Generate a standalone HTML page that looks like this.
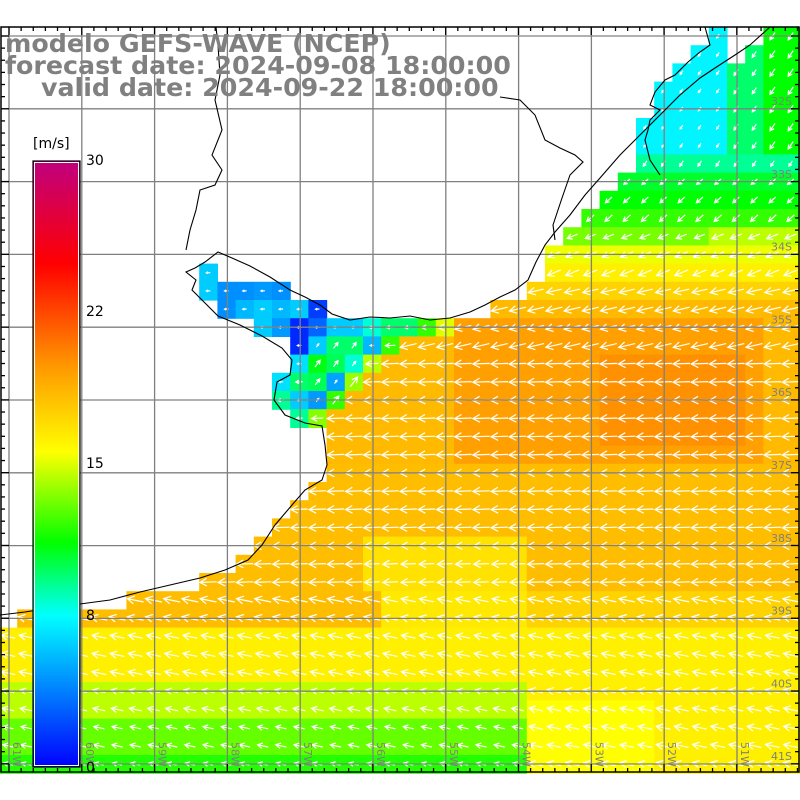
<!DOCTYPE html>
<html><head><meta charset="utf-8">
<style>
html,body{margin:0;padding:0;background:#fff;}
svg{display:block;}
</style></head>
<body>
<svg id="s" width="800" height="800" viewBox="0 0 800 800" xmlns="http://www.w3.org/2000/svg">
<defs>
<linearGradient id="cb" x1="0" y1="1" x2="0" y2="0">
<stop offset="0" stop-color="#0000ff"/>
<stop offset="0.25" stop-color="#00ffff"/>
<stop offset="0.37" stop-color="#00ff00"/>
<stop offset="0.52" stop-color="#ffff00"/>
<stop offset="0.66" stop-color="#ff9900"/>
<stop offset="0.83" stop-color="#ff0000"/>
<stop offset="1" stop-color="#c0007f"/>
</linearGradient>
</defs>
<g id="cells"></g>
<g id="arrows" stroke="#fff" stroke-width="1.2" fill="none"></g>
<g id="grid" stroke="#808080" stroke-width="1.3"></g>
<g fill="none" stroke="#000" stroke-width="1.1">
<polyline points="770,27 750,45 735,55 715,68 700,78 680,95 660,115 640,135 620,155 600,178 585,195 570,215 555,232 545,245 536,262 528,280 515,290 500,297 485,305 470,312 450,318 430,320 410,316 390,318 370,317 350,320 332,314 320,305 305,297 290,290 270,277 250,266 232,258 218,252 205,262 195,268 186,272 196,280 192,290 202,300 218,316 240,325 262,336 282,348 292,360 290,375 277,382 274,400 285,415 305,423 322,426 325,445 327,465 322,480 305,490 292,505 275,525 262,545 248,560 225,570 200,578 170,585 140,592 110,600 80,604 50,608 25,612 0,615"/>
<polyline points="216,27 218,45 220,75 215,100 222,130 212,155 222,170 215,185 200,190 196,210 190,230 186,250"/>
<polyline points="705,27 710,45 700,52 688,62 675,75 665,80 655,92 650,105 660,110 650,120 648,130 645,140 650,160 660,175"/>
<polyline points="500,97 520,100 535,115 545,140 560,148 575,155 583,162 570,175 562,198 553,225 555,240"/>
</g>
<g id="ticks" stroke="#000" stroke-width="1.3"></g>
<rect x="1" y="27" width="798" height="745" fill="none" stroke="#000" stroke-width="1.5"/>
<g id="lat" font-family="DejaVu Sans, sans-serif" font-size="11" fill="#808080"></g>
<g id="lon" font-family="DejaVu Sans, sans-serif" font-size="11" fill="#808080"></g>
<rect x="33" y="161" width="47" height="606" fill="url(#cb)" stroke="#000" stroke-width="1.2"/>
<rect x="34.5" y="162.5" width="44" height="603" fill="none" stroke="#fff" stroke-width="1"/>
<g font-family="DejaVu Sans, sans-serif" font-size="14" fill="#000">
<text x="33" y="148">[m/s]</text>
<text x="86" y="165">30</text>
<text x="86" y="316">22</text>
<text x="86" y="468">15</text>
<text x="86" y="620">8</text>
<text x="86" y="772">0</text>
</g>
<g font-family="DejaVu Sans, sans-serif" font-weight="bold" font-size="25.3" fill="#808080">
<text x="5" y="52">modelo GEFS-WAVE (NCEP)</text>
<text x="5" y="74">forecast date: 2024-09-08 18:00:00</text>
<text x="41" y="96">valid date: 2024-09-22 18:00:00</text>
</g>
</svg>
<script>
(function(){
var NS="http://www.w3.org/2000/svg";
function el(p,t,a){var e=document.createElementNS(NS,t);for(var k in a)e.setAttribute(k,a[k]);p.appendChild(e);return e;}
var stops=[[0,[0,0,255]],[0.25,[0,255,255]],[0.37,[0,255,0]],[0.52,[255,255,0]],[0.66,[255,153,0]],[0.83,[255,0,0]],[1,[192,0,127]]];
function col(v){for(var k=0;k<stops.length-1;k++){var a=stops[k],b=stops[k+1];if(v<=b[0]){var t=(v-a[0])/(b[0]-a[0]);var c=[0,1,2].map(function(q){return Math.round(a[1][q]+(b[1][q]-a[1][q])*t);});return "rgb("+c.join(",")+")";}}return "rgb(192,0,127)";}
var W=18.2,X0=-1,Y0=27;
var est={
13:{11:0.2},
14:{11:0.2,12:0.14,13:0.14,14:0.15,15:0.14},
15:{12:0.14,13:0.18,14:0.2,15:0.18,16:0.2,17:0.06},
16:{14:0.2,15:0.15,16:0.04,17:0.1,18:0.2,19:0.2,20:0.27,21:0.32,22:0.32,23:0.4,24:0.5},
17:{16:0.04,17:0.2,18:0.32,19:0.32,20:0.18,21:0.4},
18:{16:0.22,17:0.36,18:0.33,19:0.27,20:0.48},
19:{15:0.22,16:0.32,17:0.33,18:0.16,19:0.46},
20:{15:0.3,16:0.2,17:0.15,18:0.4},
21:{16:0.3,17:0.45}
};
var nstart={0:42,1:41,2:37,3:36,4:36,5:35,6:35,7:35,8:34,9:33,10:32,11:31,12:30,13:30,14:29,15:27,16:25,17:22,18:21,19:20,20:19,21:18,22:18,23:18,24:18,25:17,26:16,27:15,28:14,29:13,30:11,31:7,32:1};
function ocean(i,j){
 if(est[j]&&est[j][i]!==undefined)return true;
 if(j==0&&i==39)return true;
 if(j==1&&(i==38||i==39))return true;
 var s=nstart[j]!==undefined?nstart[j]:0;
 return i>=s;
}
function val(i,j){
 if(est[j]&&est[j][i]!==undefined)return est[j][i];
 if(j<=7){ if(j==7)return 0.3; if(i>=42)return 0.37; if(i>=40)return 0.32; return 0.24;}
 if(j==8)return 0.35; if(j==9)return 0.37; if(j==10)return 0.40;
 if(j==11)return i>38?0.48:0.44; if(j==12)return 0.51; if(j==13)return 0.54; if(j==14)return 0.58;
 if(j<=23){ if(j>=18&&j<=22&&i>=33&&i<=40)return 0.67; if(j>=16&&i>=25&&i<=41)return 0.65; return 0.615;}
 if(j<=30){ if(i>=20&&i<=28&&j>=28)return 0.56; return 0.61;}
 if(i>=29){ return j<=32?0.58:(j>=37&&i<=35?0.52:0.54);}
 if(j<=32) return (i>=21)?0.55:0.61;
 if(j<=35) return 0.54;
 if(j<=37) return 0.48;
 if(j<=39) return 0.43;
 return 0.39;
}
function dir(i,j){
 if(est[j]&&est[j][i]!==undefined){
   if(j>=17&&j<=20&&i>=17&&i<=19)return [0.6,-0.8];
   return [-1,0.05];}
 if(j<=7)return [-0.55,0.83];
 if(j<=10)return [-0.75,0.66];
 if(j<=13)return [-0.92,0.38];
 if(j<=17)return [-0.97,0.22];
 if(j<=30)return [-1,0.04];
 return [-0.98,-0.2];
}
var cg=document.getElementById("cells"),ag=document.getElementById("arrows");
var d="";
for(var j=0;j<41;j++)for(var i=0;i<44;i++){
 if(!ocean(i,j))continue;
 var x=X0+i*W,y=Y0+j*W,v=val(i,j);
 el(cg,"rect",{x:x.toFixed(1),y:y.toFixed(1),width:(W+0.6).toFixed(1),height:(W+0.6).toFixed(1),fill:col(v)});
 var dd=dir(i,j),L=Math.min(17,Math.max(4,(v-0.1)*33));
 var cx=x+W/2,cy=y+W/2;
 var hx=cx+dd[0]*L/2,hy=cy+dd[1]*L/2,tx=cx-dd[0]*L/2,ty=cy-dd[1]*L/2;
 var px=-dd[1],py=dd[0],b=Math.min(7,L*0.45);
 d+="M"+tx.toFixed(1)+" "+ty.toFixed(1)+"L"+hx.toFixed(1)+" "+hy.toFixed(1)+
    "M"+(hx-dd[0]*b+px*b*0.55).toFixed(1)+" "+(hy-dd[1]*b+py*b*0.55).toFixed(1)+"L"+hx.toFixed(1)+" "+hy.toFixed(1)+
    "L"+(hx-dd[0]*b-px*b*0.55).toFixed(1)+" "+(hy-dd[1]*b-py*b*0.55).toFixed(1);
}
el(ag,"path",{d:d});
var gg=document.getElementById("grid");
for(var k=0;k<11;k++){var gx=9+72.8*k;el(gg,"line",{x1:gx,y1:27,x2:gx,y2:772});}
for(var k=0;k<11;k++){var gy=36+72.8*k;if(gy<772)el(gg,"line",{x1:1,y1:gy,x2:799,y2:gy});}
var tg=document.getElementById("ticks");
for(var k=-1;k<67;k++){var tx=9+12.13*k;if(tx<1||tx>799)continue;var big=(k%6==0)?8:4;
 el(tg,"line",{x1:tx,y1:27,x2:tx,y2:27+big});el(tg,"line",{x1:tx,y1:772,x2:tx,y2:772-big});}
for(var k=-1;k<64;k++){var ty=36+12.13*k;if(ty<27||ty>772)continue;var big=(k%6==0)?8:4;
 el(tg,"line",{x1:1,y1:ty,x2:1+big,y2:ty});el(tg,"line",{x1:799,y1:ty,x2:799-big,y2:ty});}
var lat=document.getElementById("lat");
for(var k=0;k<10;k++){var t=el(lat,"text",{x:771,y:(105+72.8*k).toFixed(1)});t.textContent=(32+k)+"S";}
var lon=document.getElementById("lon");
for(var k=0;k<11;k++){var lx=13+72.8*k;var t=el(lon,"text",{x:0,y:0,transform:"translate("+lx.toFixed(1)+",742) rotate(90)"});t.textContent=(61-k)+"W";}
})();
</script>
</body></html>
